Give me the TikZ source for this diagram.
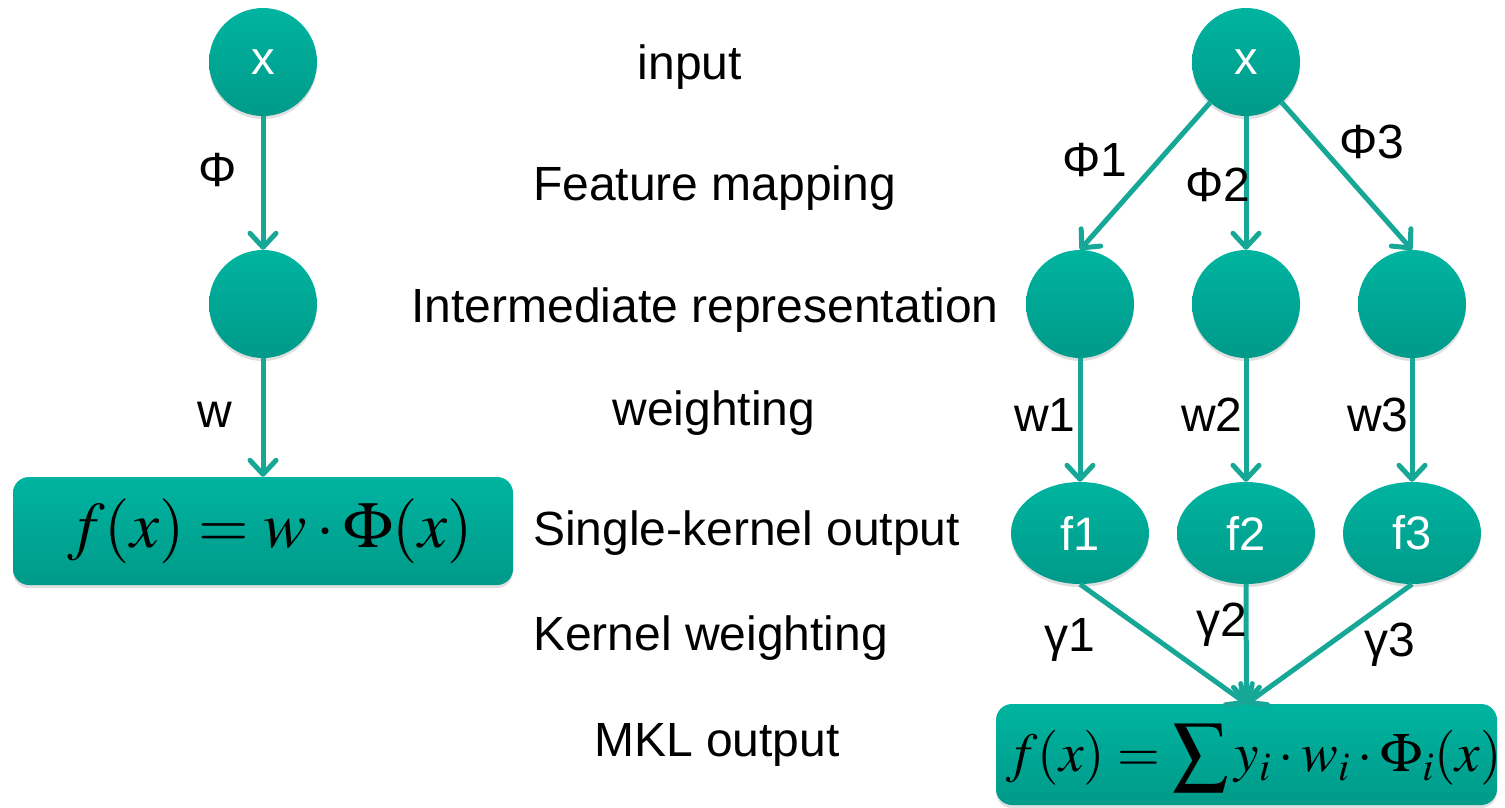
\documentclass[tikz,border=0pt]{standalone}
\usepackage{mathptmx}
\usepackage[no-math]{fontspec}
\setmainfont{Liberation Sans}
\usetikzlibrary{arrows.meta,shapes.geometric,shadows}

\definecolor{tealtop}{HTML}{00B4A0}
\definecolor{tealbot}{HTML}{009A89}
\definecolor{tealline}{HTML}{17A797}

\tikzset{
  lbl/.style={font=\fontsize{48}{54}\selectfont, text=black, inner sep=0pt},
  blob/.style={top color=tealtop, bottom color=tealbot, draw=none,
    drop shadow={opacity=0.25, shadow xshift=0pt, shadow yshift=-3pt},
    text=white, font=\fontsize{47}{52}\selectfont, inner sep=0pt},
  circ/.style={blob, circle, minimum size=108pt},
  oval/.style={blob, ellipse, minimum width=138pt, minimum height=102pt},
  outbox/.style={blob, rectangle, rounded corners=16pt, text=black},
  link/.style={draw=tealline, line width=5pt,
    -{Straight Barb[length=14pt, width=26pt, line cap=round, line join=round]}},
}

\begin{document}
\begin{tikzpicture}[x=1pt, y=-1pt]
\useasboundingbox (0,0) rectangle (1505,807);

% single-kernel pipeline
\node[circ] (lx) at (263,62) {x};
\node[circ] (lm) at (263,304) {};
\node[outbox, minimum width=500pt, minimum height=108pt] (lf) at (263,531) {};
\node[inner sep=0pt] (lft) at (270,531)
  {\fontsize{65}{68}\selectfont $f(x)=w\cdot\Phi(x)$};
\draw[link] (lx) -- (lm);
\draw[link] (lm) -- (lf);
\node[lbl] at (218,170) {Φ};
\node[lbl] at (215,415) {w};

% stage names
\node[lbl] at (690,67) {input};
\node[lbl, anchor=west] at (533,188) {Feature mapping};
\node[lbl] at (705,310) {Intermediate representation};
\node[lbl] at (714,413) {weighting};
\node[lbl, anchor=west] at (533,533) {Single-kernel output};
\node[lbl, anchor=west] at (533,638) {Kernel weighting};
\node[lbl] at (717,745) {MKL output};

% multiple-kernel pipeline
\node[circ] (rx) at (1246,62) {x};
\node[circ] (m1) at (1080,304) {};
\node[circ] (m2) at (1246,304) {};
\node[circ] (m3) at (1412,304) {};
\node[oval] (f1) at (1080,533) {f1};
\node[oval] (f2) at (1246,533) {f2};
\node[oval] (f3) at (1412,533) {f3};
\node[outbox, minimum width=501pt, minimum height=101pt] (mk) at (1246.5,754.5) {};
\node[inner sep=0pt, anchor=west] (mkt) at (1006,758)
  {\fontsize{55}{58}\selectfont $\displaystyle f(x)=\sum y_i\cdot w_i\cdot\Phi_i(x)$};

\draw[link] (rx) -- (m1.north);
\draw[link] (rx) -- (m2.north);
\draw[link] (rx) -- (m3.north);
\draw[link] (m1) -- (f1);
\draw[link] (m2) -- (f2);
\draw[link] (m3) -- (f3);
\draw[link] (f1.south) -- (mk.north);
\draw[link] (f2.south) -- (mk.north);
\draw[link] (f3.south) -- (mk.north);

\node[lbl] at (1095,160) {Φ1};
\node[lbl] at (1218,185) {Φ2};
\node[lbl] at (1372,142) {Φ3};
\node[lbl] at (1045,415) {w1};
\node[lbl] at (1212,415) {w2};
\node[lbl] at (1378,415) {w3};
\node[lbl] at (1070,640) {γ1};
\node[lbl] at (1222,625) {γ2};
\node[lbl] at (1390,645) {γ3};
\end{tikzpicture}
\end{document}
